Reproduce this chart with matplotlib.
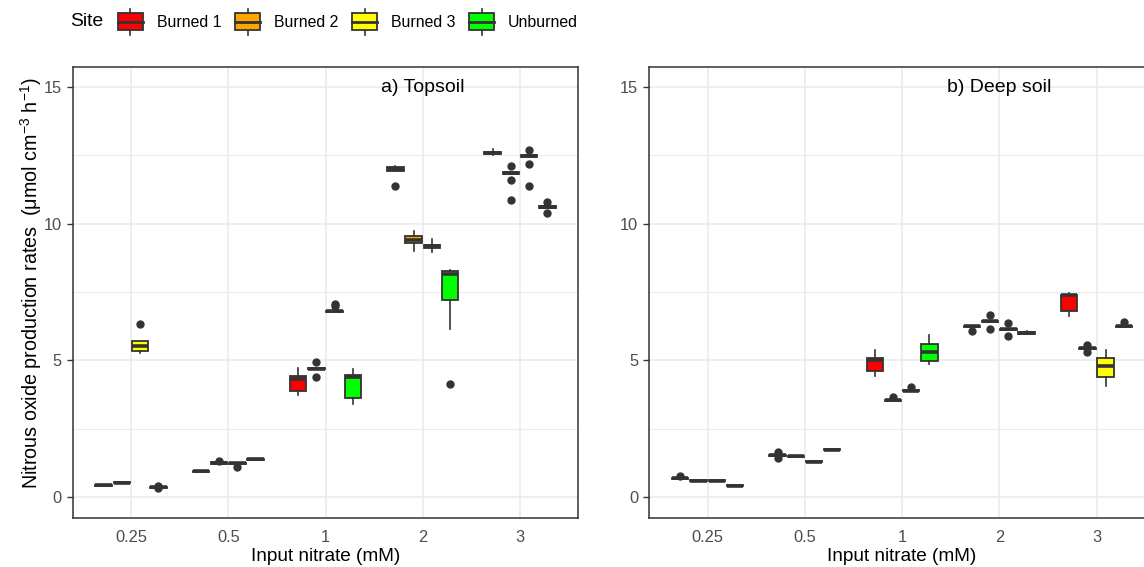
import matplotlib
matplotlib.use("Agg")
import matplotlib.pyplot as plt
from matplotlib.patches import Rectangle
from matplotlib.lines import Line2D
from matplotlib.legend_handler import HandlerBase

plt.rcParams["font.family"] = ["Liberation Sans", "DejaVu Sans"]
plt.rcParams["mathtext.fontset"] = "custom"
plt.rcParams["mathtext.rm"] = "Liberation Sans"
plt.rcParams["mathtext.it"] = "Liberation Sans:italic"
plt.rcParams["mathtext.bf"] = "Liberation Sans:bold"

# ---------------------------------------------------------------- data
nitrate_levels = ["0.25", "0.5", "1", "2", "3"]
sites = ["Burned 1", "Burned 2", "Burned 3", "Unburned"]
site_colors = ["#FF0000", "#FFA500", "#FFFF00", "#00FF00"]
panel_titles = ["a) Topsoil", "b) Deep soil"]

# Topsoil box statistics (rows: nitrate level, columns: site)
top_med = [[0.43, 0.53, 5.53, 0.37],
           [0.95, 1.25, 1.24, 1.39],
           [4.33, 4.70, 6.80, 4.39],
           [12.00, 9.39, 9.18, 8.15],
           [12.60, 11.86, 12.47, 10.61]]
top_q1 = [[0.41, 0.51, 5.34, 0.35],
          [0.93, 1.23, 1.22, 1.37],
          [3.90, 4.68, 6.78, 3.64],
          [11.93, 9.29, 9.12, 7.20],
          [12.56, 11.83, 12.44, 10.58]]
top_q3 = [[0.45, 0.55, 5.72, 0.39],
          [0.97, 1.27, 1.26, 1.41],
          [4.42, 4.72, 6.82, 4.48],
          [12.07, 9.55, 9.23, 8.27],
          [12.63, 11.89, 12.50, 10.64]]
top_whislo = [[0.41, 0.51, 5.27, 0.35],
              [0.93, 1.23, 1.22, 1.37],
              [3.72, 4.68, 6.78, 3.42],
              [11.93, 8.99, 8.96, 6.16],
              [12.53, 11.83, 12.44, 10.58]]
top_whishi = [[0.45, 0.55, 5.72, 0.39],
              [0.97, 1.27, 1.26, 1.41],
              [4.73, 4.72, 6.82, 4.70],
              [12.12, 9.72, 9.43, 8.32],
              [12.75, 11.89, 12.50, 10.64]]
top_fliers = [[[], [], [6.33], [0.42, 0.32]],
              [[], [1.33], [1.10], []],
              [[], [4.96, 4.38], [6.98, 7.06], []],
              [[11.38], [], [], [4.15]],
              [[], [12.10, 11.61, 10.86], [12.69, 12.17, 11.37], [10.78, 10.40]]]

# Deep soil box statistics (rows: nitrate level, columns: site)
deep_med = [[0.70, 0.60, 0.60, 0.42],
            [1.53, 1.49, 1.29, 1.74],
            [5.03, 3.54, 3.90, 5.31],
            [6.25, 6.44, 6.14, 6.01],
            [7.38, 5.45, 4.79, 6.25]]
deep_q1 = [[0.68, 0.58, 0.58, 0.40],
           [1.51, 1.47, 1.27, 1.72],
           [4.60, 3.52, 3.88, 4.98],
           [6.23, 6.42, 6.12, 5.97],
           [6.81, 5.43, 4.39, 6.23]]
deep_q3 = [[0.72, 0.62, 0.62, 0.44],
           [1.55, 1.51, 1.31, 1.76],
           [5.09, 3.56, 3.92, 5.61],
           [6.27, 6.46, 6.16, 6.05],
           [7.41, 5.47, 5.09, 6.27]]
deep_whislo = [[0.68, 0.58, 0.58, 0.40],
               [1.51, 1.47, 1.27, 1.72],
               [4.42, 3.52, 3.88, 4.86],
               [6.23, 6.42, 6.12, 5.95],
               [6.62, 5.43, 4.05, 6.23]]
deep_whishi = [[0.72, 0.62, 0.62, 0.44],
               [1.55, 1.51, 1.31, 1.76],
               [5.37, 3.56, 3.92, 5.92],
               [6.27, 6.46, 6.16, 6.07],
               [7.45, 5.47, 5.40, 6.27]]
deep_fliers = [[[0.76], [], [], []],
               [[1.66, 1.44], [], [], []],
               [[], [3.66], [4.04], []],
               [[6.08], [6.67, 6.14], [6.37, 5.88], []],
               [[], [5.58, 5.32], [], [6.39]]]

panels = [
    (top_med, top_q1, top_q3, top_whislo, top_whishi, top_fliers),
    (deep_med, deep_q1, deep_q3, deep_whislo, deep_whishi, deep_fliers),
]

# ---------------------------------------------------------------- style
EDGE = "#333333"
GRID = "#EBEBEB"
TICK_TXT = "#4D4D4D"
DODGE = 0.75            # total width shared by the four sites
SLOT = DODGE / len(sites)
BOX_W = SLOT * 0.9

fig = plt.figure(figsize=(11.44, 5.67), dpi=100)
W, H = 1144.0, 567.0
ax_w, ax_h = 505.6 / W, 451.2 / H
ax_bottom = 1 - 517.7 / H
axes = [fig.add_axes([72.7 / W, ax_bottom, ax_w, ax_h]),
        fig.add_axes([649.3 / W, ax_bottom, ax_w, ax_h])]

ylabel = (r"Nitrous oxide production rates  (μmol cm$^{-3}$ h$^{-1}$)")

for p, (ax, stats_set, title) in enumerate(zip(axes, panels, panel_titles)):
    med, q1, q3, wlo, whi, fl = stats_set
    for s, (site, col) in enumerate(zip(sites, site_colors)):
        stats = []
        positions = []
        for i in range(len(nitrate_levels)):
            stats.append(dict(med=med[i][s], q1=q1[i][s], q3=q3[i][s],
                              whislo=wlo[i][s], whishi=whi[i][s],
                              fliers=fl[i][s], label=site))
            positions.append(i + (s - (len(sites) - 1) / 2) * SLOT)
        ax.bxp(stats, positions=positions, widths=BOX_W, patch_artist=True,
               showcaps=False, manage_ticks=False,
               boxprops=dict(facecolor=col, edgecolor=EDGE, linewidth=1.3),
               whiskerprops=dict(color=EDGE, linewidth=1.2),
               medianprops=dict(color=EDGE, linewidth=2.6, solid_capstyle="butt"),
               flierprops=dict(marker="o", markerfacecolor=EDGE,
                               markeredgecolor=EDGE, markersize=5.0,
                               linestyle="none"))

    ax.set_xlim(-0.6, len(nitrate_levels) - 0.4)
    ax.set_ylim(-0.75, 15.75)
    ax.set_xticks(range(len(nitrate_levels)))
    ax.set_xticklabels(nitrate_levels)
    ax.set_yticks([0, 5, 10, 15])
    ax.set_yticks([2.5, 7.5, 12.5], minor=True)
    ax.set_axisbelow(True)
    ax.grid(which="major", color=GRID, linewidth=1.2)
    ax.grid(which="minor", axis="y", color=GRID, linewidth=0.8)
    ax.tick_params(axis="x", which="both", length=0, pad=8.5,
                   labelsize=11.8, labelcolor=TICK_TXT)
    ax.tick_params(axis="y", which="major", length=4, width=1.0, color=EDGE,
                   pad=4, labelsize=11.8, labelcolor=TICK_TXT)
    ax.tick_params(axis="y", which="minor", length=0)
    for sp in ax.spines.values():
        sp.set_color(EDGE)
        sp.set_linewidth(1.1)
    ax.set_xlabel("Input nitrate (mM)", fontsize=13.7, color="black")
    ax.xaxis.set_label_coords(0.5, -0.087)
    ax.xaxis.label.set_va("center")
    ax.text(3, 15, title, ha="center", va="center", fontsize=14, color="black")

axes[0].set_ylabel(ylabel, fontsize=14.2, color="black")
axes[0].yaxis.set_label_coords(-0.082, 0.521)
axes[0].yaxis.label.set_va("center")


# ---------------------------------------------------------------- legend
class BoxKeyHandler(HandlerBase):
    def create_artists(self, legend, orig_handle, xdescent, ydescent,
                       width, height, fontsize, trans):
        x0, y0 = -xdescent, -ydescent
        xc = x0 + width / 2
        stub = 0.3 * height
        lo = Line2D([xc, xc], [y0 - stub, y0], color=EDGE, lw=1.2,
                    transform=trans)
        hi = Line2D([xc, xc], [y0 + height, y0 + height + stub], color=EDGE,
                    lw=1.2, transform=trans)
        box = Rectangle((x0, y0), width, height,
                        facecolor=orig_handle.get_facecolor(),
                        edgecolor=EDGE, lw=1.3, transform=trans)
        mid = Line2D([x0, x0 + width], [y0 + height / 2] * 2, color=EDGE,
                     lw=2.0, transform=trans)
        return [lo, hi, box, mid]


handles = [Rectangle((0, 0), 1, 1, facecolor=c) for c in site_colors]
fig.legend(handles, sites, handler_map={Rectangle: BoxKeyHandler()},
           ncol=len(sites), loc="center left",
           bbox_to_anchor=(118.3 / W, 1 - 21.7 / H), frameon=False,
           fontsize=11.4, handlelength=1.54, handleheight=1.2,
           handletextpad=0.89, columnspacing=0.89, borderpad=0,
           borderaxespad=0)
fig.text(70 / W, 1 - 21.5 / H, "Site", fontsize=13.9, ha="left", va="center")

fig.savefig("out.png", dpi=100)
